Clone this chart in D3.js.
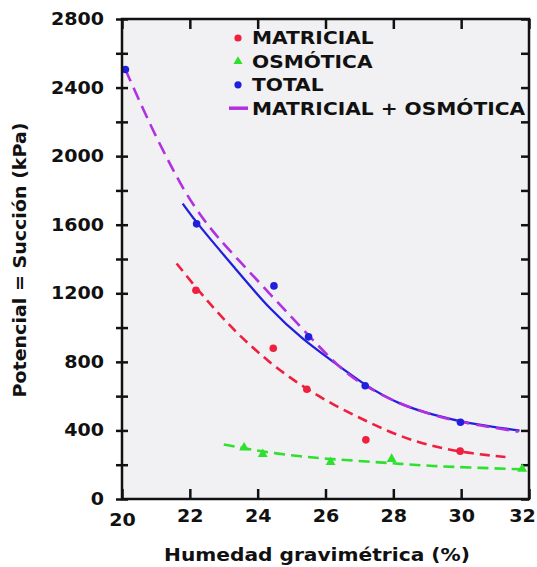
<!DOCTYPE html>
<html>
<head>
<meta charset="utf-8">
<script src="https://cdn.jsdelivr.net/npm/d3@7"></script>
<style>
  html, body { margin: 0; padding: 0; background: #fff; overflow: hidden; }
  svg { display: block; }
  text { font-family: "DejaVu Sans", Verdana, sans-serif; font-weight: bold; fill: #111; }
</style>
</head>
<body>
<svg id="chart"></svg>
<script>
// measured points (humedad %, succion kPa)
var humMatricial = [22.18, 24.46, 25.45, 27.19, 29.97]
var sucMatricial = [1218, 879, 640, 345, 279]
var humOsmotica = [23.6, 24.15, 26.15, 27.95, 31.8]
var sucOsmotica = [300, 262, 215, 233, 176]
var humTotal = [20.1, 22.2, 24.48, 25.5, 27.17, 29.98]
var sucTotal = [2505, 1605, 1243, 946, 661, 448]

// fitted curves
var fitMatricialX = [21.61, 22.4, 23.38, 24.37, 25.25, 26.23, 27.22, 28.2, 29.18, 30.17, 31.35]
var fitMatricialY = [1374, 1179, 966, 792, 665, 549, 452, 364, 306, 268, 244]
var fitOsmoticaX = [23.0, 24.0, 25.25, 26.2, 27.22, 28.2, 29.18, 30.2, 31.54, 32.0]
var fitOsmoticaY = [318, 280, 248, 232, 219, 205, 192, 184, 175, 172]
var fitTotalX = [21.79, 22.2, 23.38, 24.37, 25.35, 26.23, 27.17, 28.2, 29.18, 30.17, 31.72]
var fitTotalY = [1723, 1610, 1335, 1103, 927, 801, 661, 549, 491, 442, 399]
var fitSumaX = [20.1, 20.86, 21.36, 21.85, 22.4, 22.83, 23.38, 24.37, 25.35, 26.53, 27.2, 28.2, 29.18, 30.17, 31.69]
var fitSumaY = [2505, 2169, 1975, 1790, 1630, 1525, 1405, 1195, 985, 740, 655, 552, 488, 440, 393]

var xTicks = [20, 22, 24, 26, 28, 30, 32]
var yTicks = [0, 200, 400, 600, 800, 1000, 1200, 1400, 1600, 1800, 2000, 2200, 2400, 2600, 2800]
var legendLabels = ["MATRICIAL", "OSMÓTICA", "TOTAL", "MATRICIAL + OSMÓTICA"]

var colRed = "#ee1f3f", colGreen = "#2fe02f", colBlue = "#2020dc", colPurple = "#b030e2"

var W = 537, H = 567
var margin = {top: 19, right: 8, bottom: 68, left: 122}
var width = W - margin.left - margin.right
var height = H - margin.top - margin.bottom

var svg = d3.select("#chart").attr("width", W).attr("height", H)
var g = svg.append("g").attr("transform", "translate(" + margin.left + "," + margin.top + ")")

var x = d3.scaleLinear().domain([20, 32]).range([0, width])
var y = d3.scaleLinear().domain([0, 2800]).range([height, 0])

g.append("rect").attr("width", width).attr("height", height).attr("fill", "#f1f0f2")

// axes
var gl = g.append("g").call(d3.axisLeft(y).tickValues(yTicks).tickSize(6).tickPadding(12)
    .tickFormat(function(d) { return d % 400 === 0 ? d : "" }))
gl.selectAll(".tick line").attr("x1", 6)
var gb = g.append("g").attr("transform", "translate(0," + height + ")")
    .call(d3.axisBottom(x).tickValues(xTicks).tickSizeInner(-10).tickSizeOuter(0).tickPadding(11))
gb.selectAll(".tick text").filter(function(d) { return d === 20 }).attr("dy", "0.95em")
// last label sits against the window edge
gb.selectAll(".tick text").filter(function(d) { return d === 32 }).attr("dx", -7)
g.append("g").call(d3.axisTop(x).tickValues(xTicks).tickSizeInner(-10).tickSizeOuter(0).tickFormat(""))
g.append("g").attr("transform", "translate(" + width + ",0)")
    .call(d3.axisRight(y).tickValues(yTicks).tickSizeInner(-8).tickSizeOuter(0).tickFormat(""))

g.selectAll(".domain").remove()
g.selectAll(".tick line").attr("stroke", "#111").attr("stroke-width", 2.5)
g.selectAll(".tick text").attr("font-size", 17).attr("fill", "#111")
    .style("font-family", "'DejaVu Sans', sans-serif").style("font-weight", "bold")

// curves
function curve(xs, ys) {
    return d3.line().curve(d3.curveBasis)
        .x(function(d, i) { return x(xs[i]) })
        .y(function(d, i) { return y(ys[i]) })(xs)
}
g.append("path").attr("d", curve(fitMatricialX, fitMatricialY)).attr("fill", "none")
    .attr("stroke", colRed).attr("stroke-width", 2.6).attr("stroke-dasharray", "10,6")
g.append("path").attr("d", curve(fitOsmoticaX, fitOsmoticaY)).attr("fill", "none")
    .attr("stroke", colGreen).attr("stroke-width", 2.6).attr("stroke-dasharray", "11,6")
g.append("path").attr("d", curve(fitTotalX, fitTotalY)).attr("fill", "none")
    .attr("stroke", colBlue).attr("stroke-width", 2.3)
g.append("path").attr("d", curve(fitSumaX, fitSumaY)).attr("fill", "none")
    .attr("stroke", colPurple).attr("stroke-width", 2.6).attr("stroke-dasharray", "13,7")

// points
g.selectAll(".pm").data(humMatricial).enter().append("circle")
    .attr("cx", function(d) { return x(d) }).attr("cy", function(d, i) { return y(sucMatricial[i]) })
    .attr("r", 3.8).attr("fill", colRed)
g.selectAll(".pt").data(humTotal).enter().append("circle")
    .attr("cx", function(d) { return x(d) }).attr("cy", function(d, i) { return y(sucTotal[i]) })
    .attr("r", 3.8).attr("fill", colBlue)
g.selectAll(".po").data(humOsmotica).enter().append("path")
    .attr("d", d3.symbol(d3.symbolTriangle, 42))
    .attr("transform", function(d, i) { return "translate(" + x(d) + "," + y(sucOsmotica[i]) + ")" })
    .attr("fill", colGreen)

// frame
g.append("rect").attr("width", width).attr("height", height)
    .attr("fill", "none").attr("stroke", "#111").attr("stroke-width", 2.5)

// legend
var leg = svg.append("g").attr("transform", "translate(238,38)")
legendLabels.forEach(function(lab, i) {
    var row = leg.append("g").attr("transform", "translate(0," + (i * 23.4) + ")")
    if (i === 0) row.append("circle").attr("r", 3.6).attr("fill", colRed)
    if (i === 1) row.append("path").attr("d", d3.symbol(d3.symbolTriangle, 36)).attr("fill", colGreen)
    if (i === 2) row.append("circle").attr("r", 3.6).attr("fill", colBlue)
    if (i === 3) row.append("line").attr("x1", -9).attr("x2", 10)
        .attr("stroke", colPurple).attr("stroke-width", 3.5)
    row.append("text").attr("x", 14).attr("dy", "0.36em").attr("font-size", 18).text(lab)
})

// axis titles
svg.append("text").attr("x", 317).attr("y", 561).attr("text-anchor", "middle")
    .attr("font-size", 18).text("Humedad gravimétrica (%)")
svg.append("text").attr("transform", "translate(20,260) rotate(-90)")
    .attr("text-anchor", "middle").attr("dy", "0.36em")
    .attr("font-size", 17).text("Potencial = Succión (kPa)")

// the original is stretched sideways a bit
svg.selectAll("text").each(function() {
    var t = d3.select(this)
    if (!t.text()) return
    var w = this.getComputedTextLength()
    t.attr("textLength", w * 1.12).attr("lengthAdjust", "spacingAndGlyphs")
})
</script>
</body>
</html>
